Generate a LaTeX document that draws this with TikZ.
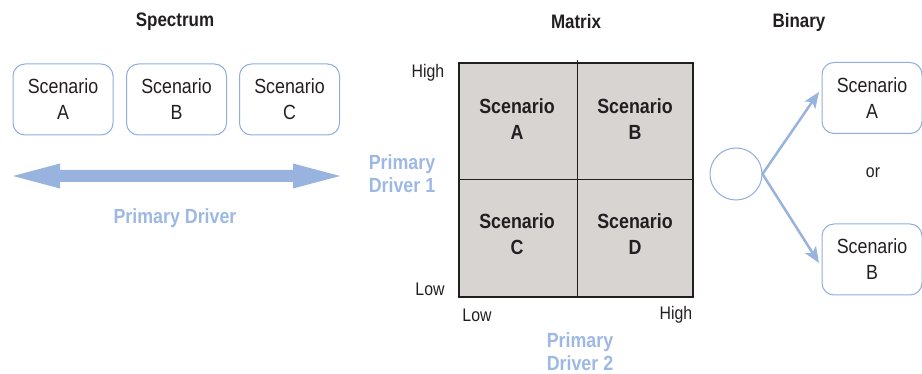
\documentclass[tikz,border=0pt]{standalone}
\usepackage{fontspec}
\setmainfont[FakeStretch=0.87]{Liberation Sans}
\usetikzlibrary{arrows.meta}
\definecolor{boxblue}{RGB}{143,174,222}
\definecolor{arrblue}{RGB}{151,179,222}
\definecolor{lblblue}{RGB}{157,185,227}
\definecolor{cellgray}{RGB}{216,212,210}
\definecolor{ink}{RGB}{35,31,32}
\tikzset{
  scen/.style={draw=boxblue, line width=1pt, rounded corners=12pt, minimum width=100pt, minimum height=71pt, align=center, font=\fontsize{20.5}{26}\selectfont, text=ink, inner sep=0pt},
  ttl/.style={font=\bfseries\fontsize{19.5}{20}\selectfont, text=ink},
  drv/.style={font=\bfseries\fontsize{20.5}{23}\selectfont, text=lblblue, align=center, inner sep=1pt},
  axl/.style={font=\fontsize{18.2}{18}\selectfont, text=ink},
  cell/.style={font=\bfseries\fontsize{20.5}{26}\selectfont, text=ink, align=center},
  barr/.style={draw=arrblue, line width=2.5pt, -{Stealth[length=16pt,width=13pt,inset=4pt]}},
}
\begin{document}
\begin{tikzpicture}[x=1pt,y=-1pt]
\useasboundingbox (0,0) rectangle (922,374);
% Spectrum
\node[ttl] (t1) at (175,22) {Spectrum};
\node[scen] (sA) at (63,99.5) {Scenario\\A};
\node[scen] (sB) at (176.5,99.5) {Scenario\\B};
\node[scen] (sC) at (289.5,99.5) {Scenario\\C};
\fill[arrblue] (13,176) -- (60,163.5) -- (60,170) -- (293,170) -- (293,163.5) -- (340,176)
  -- (293,188.5) -- (293,182) -- (60,182) -- (60,188.5) -- cycle;
\node[drv] (d0) at (175,218) {Primary Driver};
% Matrix
\node[ttl] (t2) at (576,22) {Matrix};
\node[draw=ink, fill=cellgray, line width=1.2pt, minimum width=234pt, minimum height=234pt, inner sep=0pt] (mat) at (576,180) {};
\coordinate (vt) at (577,60);
\coordinate (vb) at (577,297);
\draw[ink, line width=1pt] (vt) -- (vb);
\draw[ink, line width=1pt] (mat.west) -- (mat.east);
\node[cell] (cA) at (517,119) {Scenario\\A};
\node[cell] (cB) at (635,119) {Scenario\\B};
\node[cell] (cC) at (517,234) {Scenario\\C};
\node[cell] (cD) at (635,234) {Scenario\\D};
\node[axl] (yh) at (428,73) {High};
\node[axl] (yl) at (430,289) {Low};
\node[axl] (xl) at (477,315) {Low};
\node[axl] (xh) at (676,315) {High};
\node[drv] (d1) at (402,173.5) {Primary\\Driver 1};
\node[drv] (d2) at (580,352) {Primary\\Driver 2};
% Binary
\node[ttl] (t3) at (799,22) {Binary};
\node[circle, draw=boxblue, line width=1pt, minimum size=52pt, inner sep=0pt] (c0) at (736,174) {};
\node[scen] (bA) at (872,98) {Scenario\\A};
\node[scen] (bB) at (872,259.5) {Scenario\\B};
\node[axl] (or) at (873,173) {or};
\coordinate (tA) at (819,92);
\coordinate (tB) at (819,263);
\draw[barr] (c0.east) -- (tA);
\draw[barr] (c0.east) -- (tB);
\end{tikzpicture}
\end{document}
